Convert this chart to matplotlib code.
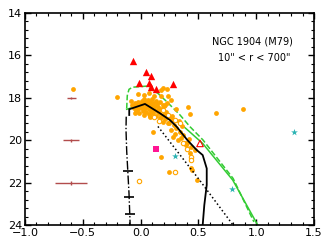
import matplotlib
matplotlib.use("Agg")
import matplotlib.pyplot as plt
from matplotlib.ticker import MultipleLocator

# ---- data ----
# filled orange stars (colour, magnitude)
dot_x = [-0.07, -0.06, -0.05, -0.04, -0.03, -0.02, -0.02, -0.01, 0.00, 0.00,
         0.01, 0.02, 0.02, 0.03, 0.04, 0.04, 0.05, 0.05, 0.06, 0.06,
         0.07, 0.07, 0.08, 0.08, 0.09, 0.09, 0.10, 0.10, 0.11, 0.11,
         0.12, 0.12, 0.13, 0.13, 0.14, 0.14, 0.15, 0.16, 0.17, 0.17,
         0.18, 0.19, 0.20, 0.21, 0.22, 0.24, 0.25, 0.23, -0.08, -0.05,
         0.03, 0.08, -0.06, 0.01, 0.05, 0.10, 0.15, 0.19, 0.21, 0.27,
         -0.587, -0.207, -0.022, 0.03, 0.07, 0.116, 0.174, 0.197, 0.226, 0.24,
         0.174, 0.266, 0.208, 0.41, 0.425, 0.652, 0.883, 0.31,
         0.079, 0.18, 0.194, 0.237, 0.266, 0.31, 0.338, 0.367, 0.382, 0.40,
         0.468, 0.324, 0.28, 0.29, 0.33, 0.36, 0.27, 0.30, 0.35, 0.42,
         0.44, 0.393, 0.427, 0.442, 0.436, 0.49, 0.107, 0.18, 0.243]
dot_y = [18.35, 18.50, 18.25, 18.60, 18.40, 18.20, 18.55, 18.70, 18.30, 18.45,
         18.15, 18.60, 18.35, 18.80, 18.25, 18.50, 18.40, 18.65, 18.10, 18.30,
         18.55, 18.75, 18.20, 18.45, 18.35, 18.60, 18.05, 18.50, 18.25, 18.70,
         18.40, 18.55, 18.15, 18.85, 18.30, 18.60, 18.45, 18.70, 18.20, 18.95,
         18.55, 18.80, 18.40, 19.00, 18.65, 18.90, 19.20, 18.25, 18.15, 18.70,
         18.05, 18.85, 18.45, 18.50, 18.20, 18.30, 18.60, 18.35, 18.75, 18.85,
         17.60, 17.95, 17.82, 17.87, 17.79, 17.91, 17.63, 17.55, 17.57, 17.92,
         17.92, 18.10, 18.34, 18.45, 18.74, 18.73, 18.54, 18.55,
         18.89, 18.89, 19.13, 19.20, 19.52, 19.44, 19.60, 19.76, 20.15, 20.15,
         20.46, 20.00, 19.83, 19.30, 19.10, 19.35, 19.00, 19.70, 19.90, 19.95,
         20.30, 20.23, 20.62, 21.40, 21.33, 21.88, 19.60, 20.78, 21.49]
# open orange circles
open_x = [0.19, 0.24, 0.34, 0.30, 0.37, 0.40, 0.44, 0.44, 0.30, -0.01, 0.12, 0.16]
open_y = [18.58, 18.80, 19.20, 19.05, 20.15, 20.40, 20.80, 20.95, 21.49, 21.92, 18.90, 19.10]
# red triangles
tri_x = [-0.068, 0.047, 0.09, -0.016, 0.075, 0.09, 0.13, 0.283]
tri_y = [16.25, 16.78, 16.97, 17.29, 17.29, 17.50, 17.57, 17.35]
otri_x = [0.514]
otri_y = [20.15]
# cyan stars
star_x = [1.33, 0.30, 0.79]
star_y = [19.60, 20.75, 22.30]
# magenta square
sq_x = [0.133]
sq_y = [20.42]
# photometric error bars
err_x = [-0.6, -0.6, -0.6]
err_y = [18.0, 20.0, 22.0]
err_dx = [0.04, 0.07, 0.14]
err_dy = [0.05, 0.08, 0.10]

# isochrone (black solid)
iso_x = [-0.098, -0.098, 0.038, 0.168, 0.254, 0.312, 0.404, 0.485, 0.537, 0.572, 0.572, 0.551, 0.537]
iso_y = [18.81, 18.54, 18.29, 18.73, 19.05, 19.36, 19.99, 20.46, 20.70, 21.33, 22.11, 23.06, 24.0]
# black dotted
dot_line_x = [0.15, 0.51, 0.80]
dot_line_y = [19.35, 21.88, 24.0]
# black dash-dot with tick marks
dd_x = [-0.124, -0.126, -0.12, -0.11, -0.10, -0.09]
dd_y = [18.89, 19.5, 20.5, 21.5, 22.5, 24.0]
ddm_x = [-0.112, -0.10, -0.093]
ddm_y = [21.45, 22.67, 23.5]
# green solid / dashed
gs_x = [-0.12, 0.053, 0.139, 0.254, 0.341, 0.537, 0.797, 1.013]
gs_y = [18.54, 18.26, 18.42, 18.89, 19.2, 20.15, 21.88, 24.0]
gd_x = [-0.12, -0.115, -0.10, -0.07, 0.05, 0.15, 0.226, 0.341, 0.427, 0.54, 0.80, 0.98]
gd_y = [18.50, 17.90, 17.60, 17.50, 17.45, 17.79, 18.18, 18.81, 19.36, 19.99, 21.80, 23.85]

fig = plt.figure(figsize=(3.32, 2.49), dpi=100)
ax = fig.add_axes([0.075, 0.096, 0.871, 0.852])

ax.plot(gd_x, gd_y, "--", color="#33cc33", lw=1.1, zorder=2)
ax.plot(gs_x, gs_y, "-", color="#33cc33", lw=1.1, zorder=2)

ax.scatter(dot_x, dot_y, s=12, color="#FFA500", lw=0, zorder=3)
ax.scatter(open_x, open_y, s=10, facecolor="white", edgecolor="#FFA500", lw=0.8, zorder=3)

ax.plot(iso_x, iso_y, "-", color="black", lw=1.3, zorder=4)
ax.plot(dot_line_x, dot_line_y, ":", color="black", lw=1.1, zorder=4)
ax.plot(dd_x, dd_y, "-.", color="black", lw=1.0, zorder=4)
ax.plot(ddm_x, ddm_y, "_", color="black", ms=7, mew=1.2, zorder=4)

ax.scatter(tri_x, tri_y, s=28, marker="^", color="red", lw=0, zorder=5)
ax.scatter(otri_x, otri_y, s=22, marker="^", facecolor="none", edgecolor="red", lw=0.8, zorder=5)
ax.scatter(star_x, star_y, s=26, marker="*", color="#2ab3b3", lw=0, zorder=5)
ax.scatter(sq_x, sq_y, s=18, marker="s", color="#ff1493", lw=0, zorder=5)

ax.errorbar(err_x, err_y, xerr=err_dx, yerr=err_dy, fmt="none",
            ecolor="#b24c4c", elinewidth=1.0, capsize=0, zorder=5)

ax.text(0.97, 15.35, "NGC 1904 (M79)", fontsize=7, ha="center", va="center")
ax.text(0.98, 16.12, '10" < r < 700"', fontsize=7, ha="center", va="center")

ax.set_xlim(-1.0, 1.5)
ax.set_ylim(24, 14)
ax.xaxis.set_major_locator(MultipleLocator(0.5))
ax.xaxis.set_minor_locator(MultipleLocator(0.1))
ax.yaxis.set_major_locator(MultipleLocator(2))
ax.yaxis.set_minor_locator(MultipleLocator(0.4))
ax.tick_params(which="both", direction="in", top=True, right=True, labelsize=8, pad=2)
ax.tick_params(which="major", length=4.5, width=1.0)
ax.tick_params(which="minor", length=2.5, width=0.8)
for s in ax.spines.values():
    s.set_linewidth(1.2)

fig.savefig("out.png", dpi=100)
